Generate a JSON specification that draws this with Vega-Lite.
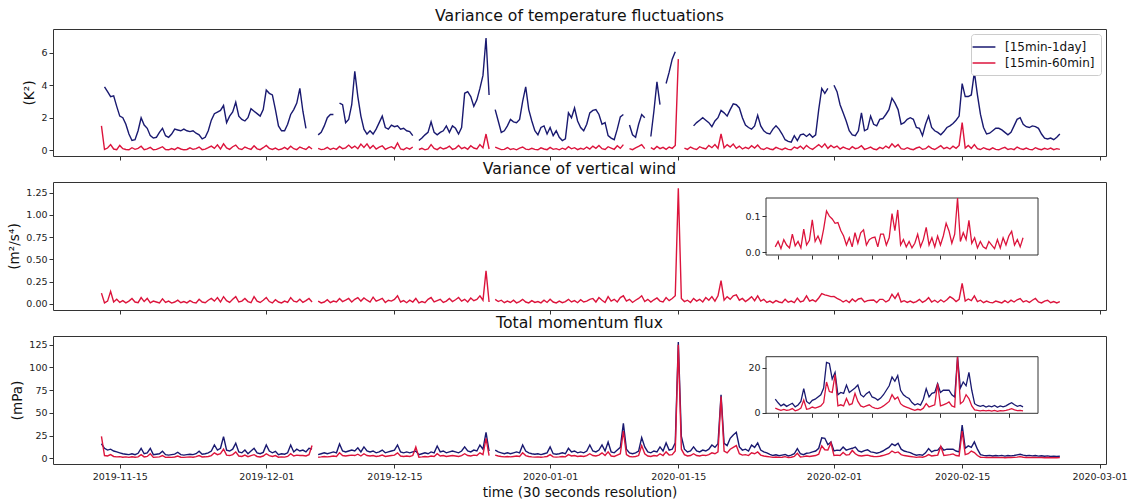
{
"$schema":"https://vega.github.io/schema/vega-lite/v6.json",
"background":"white",
"padding":{"left":7,"top":7,"right":5,"bottom":2},
"data":{"format":{"parse":{"t":"date:'%y%m%d%H'"}},"values":[
{"t":"19111300","a":null,"b":1.5,"w":0.12,"m":16,"n":24},
{"t":"19111308","a":3.9,"b":0.05,"w":0.01,"m":11,"n":3},
{"t":"19111316","a":3.6,"b":0.14,"w":0.03,"m":9,"n":2.5},
{"t":"19111400","a":3.3,"b":0.35,"w":0.14,"m":10,"n":4},
{"t":"19111408","a":3.35,"b":0.08,"w":0.02,"m":8,"n":2},
{"t":"19111416","a":2.7,"b":0.04,"w":0.05,"m":7,"n":1.5},
{"t":"19111500","a":2.1,"b":0.3,"w":0.015,"m":6,"n":1.8},
{"t":"19111508","a":2.0,"b":0.1,"w":0.035,"m":5,"n":1.2},
{"t":"19111516","a":1.6,"b":0.05,"w":0.01,"m":4.5,"n":1.5},
{"t":"19111600","a":1.0,"b":0.03,"w":0.03,"m":4,"n":1},
{"t":"19111608","a":0.6,"b":0.16,"w":0.06,"m":5,"n":1.6},
{"t":"19111616","a":0.65,"b":0.06,"w":0.02,"m":4,"n":1.2},
{"t":"19111700","a":1.2,"b":0.12,"w":0.012,"m":5.5,"n":1.5},
{"t":"19111708","a":2.0,"b":0.25,"w":0.07,"m":11,"n":4},
{"t":"19111716","a":1.55,"b":0.04,"w":0.025,"m":5,"n":1.5},
{"t":"19111800","a":1.35,"b":0.09,"w":0.06,"m":6,"n":2},
{"t":"19111808","a":0.9,"b":0.18,"w":0.01,"m":11,"n":5},
{"t":"19111816","a":0.75,"b":0.03,"w":0.03,"m":4,"n":1},
{"t":"19111900","a":0.8,"b":0.06,"w":0.02,"m":4.5,"n":1.3},
{"t":"19111908","a":1.1,"b":0.14,"w":0.01,"m":5,"n":1.5},
{"t":"19111916","a":1.35,"b":0.22,"w":0.055,"m":7.7,"n":3},
{"t":"19112000","a":0.9,"b":0.05,"w":0.015,"m":4,"n":1},
{"t":"19112008","a":0.8,"b":0.03,"w":0.03,"m":3.5,"n":1.2},
{"t":"19112016","a":1.0,"b":0.11,"w":0.008,"m":4,"n":1},
{"t":"19112100","a":1.3,"b":0.04,"w":0.02,"m":4.5,"n":1.4},
{"t":"19112108","a":1.25,"b":0.17,"w":0.04,"m":6.6,"n":2.5},
{"t":"19112116","a":1.2,"b":0.08,"w":0.012,"m":4,"n":1.2},
{"t":"19112200","a":1.3,"b":0.03,"w":0.025,"m":3.5,"n":1},
{"t":"19112208","a":1.2,"b":0.05,"w":0.01,"m":4,"n":1.3},
{"t":"19112216","a":1.15,"b":0.15,"w":0.035,"m":4.5,"n":1.5},
{"t":"19112300","a":1.2,"b":0.06,"w":0.015,"m":4,"n":1.2},
{"t":"19112308","a":1.05,"b":0.1,"w":0.01,"m":5,"n":1.8},
{"t":"19112316","a":0.95,"b":0.2,"w":0.05,"m":7.7,"n":3},
{"t":"19112400","a":0.7,"b":0.04,"w":0.02,"m":4.5,"n":1.4},
{"t":"19112408","a":0.8,"b":0.07,"w":0.012,"m":5,"n":1.6},
{"t":"19112416","a":1.2,"b":0.16,"w":0.04,"m":6,"n":2},
{"t":"19112500","a":1.85,"b":0.26,"w":0.06,"m":8,"n":3},
{"t":"19112508","a":2.25,"b":0.12,"w":0.03,"m":14.6,"n":6},
{"t":"19112516","a":2.35,"b":0.34,"w":0.07,"m":9,"n":4},
{"t":"19112600","a":2.45,"b":0.08,"w":0.02,"m":11,"n":5},
{"t":"19112608","a":2.75,"b":0.4,"w":0.08,"m":23.8,"n":10},
{"t":"19112616","a":1.7,"b":0.15,"w":0.035,"m":9,"n":3.5},
{"t":"19112700","a":2.1,"b":0.06,"w":0.015,"m":8,"n":3},
{"t":"19112708","a":2.35,"b":0.22,"w":0.05,"m":10,"n":4},
{"t":"19112716","a":2.95,"b":0.32,"w":0.08,"m":16.5,"n":7},
{"t":"19112800","a":2.1,"b":0.1,"w":0.02,"m":7,"n":2.5},
{"t":"19112808","a":1.9,"b":0.05,"w":0.03,"m":6,"n":2},
{"t":"19112816","a":1.8,"b":0.2,"w":0.06,"m":9,"n":3.5},
{"t":"19112900","a":2.0,"b":0.12,"w":0.025,"m":5,"n":1.8},
{"t":"19112908","a":2.55,"b":0.06,"w":0.012,"m":8,"n":3},
{"t":"19112916","a":2.4,"b":0.28,"w":0.08,"m":11,"n":4},
{"t":"19113000","a":2.25,"b":0.09,"w":0.03,"m":6,"n":2},
{"t":"19113008","a":2.1,"b":0.04,"w":0.015,"m":5,"n":1.5},
{"t":"19113016","a":2.5,"b":0.16,"w":0.04,"m":6.5,"n":2.5},
{"t":"19120100","a":3.7,"b":0.3,"w":0.07,"m":14.6,"n":5},
{"t":"19120108","a":3.5,"b":0.12,"w":0.025,"m":8,"n":3},
{"t":"19120116","a":3.4,"b":0.05,"w":0.01,"m":6,"n":2},
{"t":"19120200","a":2.5,"b":0.14,"w":0.045,"m":7.7,"n":3},
{"t":"19120208","a":1.5,"b":0.03,"w":0.02,"m":4,"n":1.2},
{"t":"19120216","a":1.2,"b":0.08,"w":0.01,"m":5,"n":1.5},
{"t":"19120300","a":1.2,"b":0.18,"w":0.03,"m":4.5,"n":1.3},
{"t":"19120308","a":1.6,"b":0.06,"w":0.015,"m":6,"n":2},
{"t":"19120316","a":2.2,"b":0.25,"w":0.07,"m":14.6,"n":5},
{"t":"19120400","a":2.5,"b":0.1,"w":0.03,"m":7,"n":2.5},
{"t":"19120408","a":2.9,"b":0.04,"w":0.02,"m":10,"n":3.5},
{"t":"19120416","a":3.8,"b":0.2,"w":0.05,"m":8,"n":3},
{"t":"19120500","a":2.4,"b":0.12,"w":0.015,"m":9,"n":3},
{"t":"19120508","a":1.35,"b":0.05,"w":0.035,"m":7,"n":2.5},
{"t":"19120516","a":null,"b":0.22,"w":0.06,"m":11,"n":4},
{"t":"19120600","a":null,"b":0.08,"w":0.02,"m":10,"n":14},
{"t":"19120608","a":null,"b":null,"w":null,"m":null,"n":null},
{"t":"19120616","a":0.95,"b":0.12,"w":0.03,"m":4,"n":1.2},
{"t":"19120700","a":1.1,"b":0.04,"w":0.01,"m":5,"n":1.5},
{"t":"19120708","a":1.5,"b":0.07,"w":0.02,"m":6,"n":2},
{"t":"19120716","a":2.0,"b":0.18,"w":0.045,"m":5,"n":1.6},
{"t":"19120800","a":2.2,"b":0.05,"w":0.012,"m":6,"n":2},
{"t":"19120808","a":2.2,"b":0.13,"w":0.03,"m":7,"n":2.5},
{"t":"19120816","a":null,"b":0.06,"w":0.02,"m":6,"n":2},
{"t":"19120900","a":2.9,"b":0.24,"w":0.06,"m":15.7,"n":6},
{"t":"19120908","a":2.8,"b":0.1,"w":0.025,"m":8,"n":3},
{"t":"19120916","a":1.7,"b":0.15,"w":0.04,"m":7,"n":2.5},
{"t":"19121000","a":1.9,"b":0.32,"w":0.06,"m":8,"n":3},
{"t":"19121008","a":2.8,"b":0.14,"w":0.02,"m":9,"n":3.5},
{"t":"19121016","a":4.85,"b":0.26,"w":0.05,"m":8,"n":3},
{"t":"19121100","a":3.3,"b":0.1,"w":0.07,"m":11.5,"n":4.5},
{"t":"19121108","a":2.1,"b":0.38,"w":0.03,"m":7,"n":2.5},
{"t":"19121116","a":1.3,"b":0.18,"w":0.065,"m":12.5,"n":5},
{"t":"19121200","a":1.0,"b":0.4,"w":0.04,"m":8,"n":3},
{"t":"19121208","a":1.2,"b":0.12,"w":0.02,"m":7,"n":2.5},
{"t":"19121216","a":1.0,"b":0.3,"w":0.075,"m":8,"n":3},
{"t":"19121300","a":1.3,"b":0.08,"w":0.03,"m":6,"n":2},
{"t":"19121308","a":1.7,"b":0.2,"w":0.045,"m":7,"n":2.5},
{"t":"19121316","a":2.1,"b":0.28,"w":0.06,"m":9,"n":3.5},
{"t":"19121400","a":1.4,"b":0.06,"w":0.015,"m":6,"n":2},
{"t":"19121408","a":1.3,"b":0.15,"w":0.04,"m":7,"n":2.5},
{"t":"19121416","a":1.55,"b":0.22,"w":0.03,"m":8,"n":3},
{"t":"19121500","a":1.45,"b":0.1,"w":0.05,"m":9,"n":3.5},
{"t":"19121508","a":1.5,"b":0.45,"w":0.09,"m":14.6,"n":6},
{"t":"19121516","a":1.3,"b":0.08,"w":0.02,"m":7,"n":2.5},
{"t":"19121600","a":1.35,"b":0.04,"w":0.035,"m":6,"n":2},
{"t":"19121608","a":1.2,"b":0.16,"w":0.012,"m":7,"n":2.5},
{"t":"19121616","a":1.15,"b":0.07,"w":0.04,"m":6,"n":2},
{"t":"19121700","a":0.9,"b":0.2,"w":0.02,"m":7,"n":3},
{"t":"19121708","a":null,"b":null,"w":0.06,"m":8,"n":12.5},
{"t":"19121716","a":0.6,"b":0.05,"w":0.01,"m":4,"n":1.2},
{"t":"19121800","a":0.75,"b":0.12,"w":0.025,"m":5,"n":1.5},
{"t":"19121808","a":0.95,"b":0.03,"w":0.012,"m":6,"n":2},
{"t":"19121816","a":1.1,"b":0.09,"w":0.05,"m":5,"n":1.6},
{"t":"19121900","a":1.75,"b":0.35,"w":0.07,"m":7,"n":2.5},
{"t":"19121908","a":1.1,"b":0.12,"w":0.02,"m":6,"n":2},
{"t":"19121916","a":0.95,"b":0.04,"w":0.035,"m":13.5,"n":5},
{"t":"19122000","a":1.1,"b":0.18,"w":0.05,"m":7,"n":2.5},
{"t":"19122008","a":1.2,"b":0.08,"w":0.015,"m":8,"n":3},
{"t":"19122016","a":1.5,"b":0.14,"w":0.03,"m":6,"n":2},
{"t":"19122100","a":1.1,"b":0.26,"w":0.06,"m":7,"n":2.5},
{"t":"19122108","a":1.5,"b":0.06,"w":0.025,"m":8,"n":3},
{"t":"19122116","a":1.35,"b":0.12,"w":0.045,"m":7,"n":2.5},
{"t":"19122200","a":1.0,"b":0.3,"w":0.07,"m":6,"n":2},
{"t":"19122208","a":1.4,"b":0.1,"w":0.03,"m":8,"n":3},
{"t":"19122216","a":3.5,"b":0.18,"w":0.05,"m":12.5,"n":5},
{"t":"19122300","a":3.6,"b":0.06,"w":0.02,"m":8,"n":3},
{"t":"19122308","a":3.3,"b":0.28,"w":0.065,"m":7,"n":2.5},
{"t":"19122316","a":2.7,"b":0.14,"w":0.035,"m":9,"n":3.5},
{"t":"19122400","a":3.1,"b":0.09,"w":0.05,"m":8,"n":3},
{"t":"19122408","a":3.8,"b":0.35,"w":0.09,"m":14.6,"n":6},
{"t":"19122416","a":4.6,"b":0.15,"w":0.04,"m":10,"n":4},
{"t":"19122500","a":6.9,"b":1.0,"w":0.37,"m":28.6,"n":22},
{"t":"19122508","a":3.4,"b":0.08,"w":0.02,"m":8,"n":3},
{"t":"19122516","a":null,"b":null,"w":null,"m":null,"n":null},
{"t":"19122600","a":2.5,"b":0.2,"w":0.05,"m":9,"n":3.5},
{"t":"19122608","a":1.8,"b":0.12,"w":0.025,"m":7,"n":2.5},
{"t":"19122616","a":1.1,"b":0.04,"w":0.04,"m":6,"n":2},
{"t":"19122700","a":1.2,"b":0.06,"w":0.012,"m":5,"n":1.6},
{"t":"19122708","a":1.5,"b":0.17,"w":0.03,"m":6,"n":2},
{"t":"19122716","a":1.9,"b":0.05,"w":0.015,"m":5,"n":1.5},
{"t":"19122800","a":1.75,"b":0.1,"w":0.04,"m":6,"n":2},
{"t":"19122808","a":1.7,"b":0.03,"w":0.01,"m":7,"n":2.5},
{"t":"19122816","a":1.9,"b":0.14,"w":0.025,"m":6,"n":2},
{"t":"19122900","a":3.0,"b":0.2,"w":0.05,"m":14.6,"n":6},
{"t":"19122908","a":3.9,"b":0.07,"w":0.02,"m":8,"n":3},
{"t":"19122916","a":2.5,"b":0.04,"w":0.01,"m":6,"n":2},
{"t":"19123000","a":1.8,"b":0.12,"w":0.035,"m":5,"n":1.6},
{"t":"19123008","a":1.2,"b":0.06,"w":0.015,"m":4.5,"n":1.3},
{"t":"19123016","a":0.95,"b":0.03,"w":0.025,"m":5,"n":1.5},
{"t":"19123100","a":1.4,"b":0.15,"w":0.01,"m":4,"n":1.2},
{"t":"19123108","a":1.5,"b":0.08,"w":0.04,"m":5,"n":1.5},
{"t":"19123116","a":1.0,"b":0.04,"w":0.015,"m":6,"n":2},
{"t":"20010100","a":1.4,"b":0.18,"w":0.05,"m":12.5,"n":4},
{"t":"20010108","a":0.9,"b":0.06,"w":0.02,"m":5,"n":1.5},
{"t":"20010116","a":1.2,"b":0.1,"w":0.01,"m":4.5,"n":1.3},
{"t":"20010200","a":0.8,"b":0.03,"w":0.03,"m":5,"n":1.5},
{"t":"20010208","a":0.6,"b":0.13,"w":0.012,"m":6,"n":2},
{"t":"20010216","a":0.7,"b":0.05,"w":0.025,"m":5,"n":1.6},
{"t":"20010300","a":2.3,"b":0.22,"w":0.05,"m":11,"n":4},
{"t":"20010308","a":2.0,"b":0.09,"w":0.02,"m":7,"n":2.5},
{"t":"20010316","a":2.6,"b":0.16,"w":0.035,"m":8,"n":3},
{"t":"20010400","a":1.8,"b":0.04,"w":0.012,"m":6,"n":2},
{"t":"20010408","a":1.4,"b":0.12,"w":0.045,"m":7,"n":2.5},
{"t":"20010416","a":1.2,"b":0.06,"w":0.02,"m":6,"n":2},
{"t":"20010500","a":1.6,"b":0.2,"w":0.03,"m":8,"n":3},
{"t":"20010508","a":2.3,"b":0.08,"w":0.05,"m":14.6,"n":5},
{"t":"20010516","a":2.45,"b":0.26,"w":0.06,"m":8,"n":3},
{"t":"20010600","a":2.5,"b":0.12,"w":0.02,"m":7,"n":2.5},
{"t":"20010608","a":2.2,"b":0.3,"w":0.07,"m":9,"n":3.5},
{"t":"20010616","a":1.6,"b":0.1,"w":0.04,"m":14.6,"n":6},
{"t":"20010700","a":1.7,"b":0.05,"w":0.015,"m":8,"n":3},
{"t":"20010708","a":0.9,"b":0.22,"w":0.08,"m":18,"n":7},
{"t":"20010716","a":0.75,"b":0.14,"w":0.03,"m":7,"n":2.5},
{"t":"20010800","a":0.65,"b":0.06,"w":0.05,"m":6,"n":2},
{"t":"20010808","a":1.3,"b":0.28,"w":0.02,"m":9,"n":3.5},
{"t":"20010816","a":2.05,"b":0.12,"w":0.07,"m":12,"n":5},
{"t":"20010900","a":2.2,"b":0.35,"w":0.09,"m":38.5,"n":30},
{"t":"20010908","a":null,"b":null,"w":0.03,"m":10,"n":4},
{"t":"20010916","a":1.55,"b":0.1,"w":0.05,"m":6,"n":2},
{"t":"20011000","a":0.95,"b":0.04,"w":0.015,"m":5,"n":1.6},
{"t":"20011008","a":0.8,"b":0.15,"w":0.04,"m":6,"n":2},
{"t":"20011016","a":1.6,"b":0.24,"w":0.06,"m":8,"n":3},
{"t":"20011100","a":2.2,"b":0.35,"w":0.09,"m":22.7,"n":14},
{"t":"20011108","a":2.0,"b":0.1,"w":0.025,"m":12.5,"n":5},
{"t":"20011116","a":null,"b":null,"w":0.05,"m":7,"n":2.5},
{"t":"20011200","a":0.85,"b":0.16,"w":0.02,"m":6,"n":2},
{"t":"20011208","a":2.4,"b":0.06,"w":0.045,"m":8,"n":3},
{"t":"20011216","a":4.2,"b":0.24,"w":0.065,"m":7,"n":2.5},
{"t":"20011300","a":2.8,"b":0.1,"w":0.03,"m":12.5,"n":5},
{"t":"20011308","a":null,"b":0.18,"w":0.02,"m":8,"n":3},
{"t":"20011316","a":4.1,"b":0.06,"w":0.07,"m":16.9,"n":7},
{"t":"20011400","a":4.8,"b":0.2,"w":0.035,"m":9,"n":3.5},
{"t":"20011408","a":5.6,"b":0.12,"w":0.06,"m":10,"n":4},
{"t":"20011416","a":6.05,"b":0.3,"w":0.09,"m":16.9,"n":8},
{"t":"20011500","a":null,"b":5.6,"w":1.3,"m":128,"n":125},
{"t":"20011508","a":null,"b":null,"w":0.06,"m":24,"n":10},
{"t":"20011516","a":null,"b":0.14,"w":0.025,"m":10,"n":4},
{"t":"20011600","a":null,"b":0.06,"w":0.04,"m":7,"n":2.5},
{"t":"20011608","a":null,"b":0.2,"w":0.015,"m":8,"n":3},
{"t":"20011616","a":1.5,"b":0.1,"w":0.06,"m":12.5,"n":5},
{"t":"20011700","a":1.7,"b":0.05,"w":0.03,"m":8,"n":3},
{"t":"20011708","a":1.85,"b":0.22,"w":0.05,"m":7,"n":2.5},
{"t":"20011716","a":2.0,"b":0.14,"w":0.02,"m":9,"n":3.5},
{"t":"20011800","a":1.85,"b":0.08,"w":0.07,"m":8,"n":3},
{"t":"20011808","a":1.7,"b":0.3,"w":0.04,"m":10,"n":4},
{"t":"20011816","a":1.45,"b":0.16,"w":0.08,"m":14.6,"n":6},
{"t":"20011900","a":1.8,"b":0.35,"w":0.03,"m":12,"n":5},
{"t":"20011908","a":2.0,"b":0.12,"w":0.09,"m":16,"n":7},
{"t":"20011916","a":2.45,"b":1.0,"w":0.26,"m":70,"n":68},
{"t":"20012000","a":2.3,"b":0.15,"w":0.04,"m":16.5,"n":8},
{"t":"20012008","a":2.1,"b":0.35,"w":0.08,"m":14,"n":6},
{"t":"20012016","a":2.5,"b":0.2,"w":0.05,"m":22,"n":10},
{"t":"20012100","a":2.85,"b":0.38,"w":0.09,"m":25.7,"n":12},
{"t":"20012108","a":2.8,"b":0.12,"w":0.1,"m":28.6,"n":14},
{"t":"20012116","a":2.6,"b":0.26,"w":0.04,"m":12.5,"n":5},
{"t":"20012200","a":2.0,"b":0.08,"w":0.06,"m":9,"n":3.5},
{"t":"20012208","a":1.55,"b":0.18,"w":0.025,"m":10,"n":4},
{"t":"20012216","a":1.4,"b":0.1,"w":0.05,"m":8,"n":3},
{"t":"20012300","a":1.3,"b":0.28,"w":0.08,"m":14.6,"n":6},
{"t":"20012308","a":1.5,"b":0.14,"w":0.035,"m":12,"n":5},
{"t":"20012316","a":2.15,"b":0.32,"w":0.09,"m":16.9,"n":7},
{"t":"20012400","a":1.5,"b":0.1,"w":0.03,"m":9,"n":3.5},
{"t":"20012408","a":1.2,"b":0.05,"w":0.05,"m":7,"n":2.5},
{"t":"20012416","a":1.05,"b":0.16,"w":0.015,"m":6,"n":2},
{"t":"20012500","a":1.0,"b":0.08,"w":0.03,"m":4.4,"n":1.5},
{"t":"20012508","a":1.3,"b":0.04,"w":0.01,"m":3,"n":1},
{"t":"20012516","a":1.5,"b":0.18,"w":0.035,"m":3.8,"n":1.4},
{"t":"20012600","a":1.3,"b":0.1,"w":0.02,"m":2.8,"n":1},
{"t":"20012608","a":1.0,"b":0.04,"w":0.012,"m":3.5,"n":1.2},
{"t":"20012616","a":0.65,"b":0.14,"w":0.05,"m":4.2,"n":1.8},
{"t":"20012700","a":0.55,"b":0.06,"w":0.018,"m":2.6,"n":0.8},
{"t":"20012708","a":0.5,"b":0.03,"w":0.03,"m":3.4,"n":1.2},
{"t":"20012716","a":0.9,"b":0.2,"w":0.012,"m":5,"n":2},
{"t":"20012800","a":0.6,"b":0.12,"w":0.064,"m":10.7,"n":5.6},
{"t":"20012808","a":0.95,"b":0.26,"w":0.02,"m":5,"n":1.5},
{"t":"20012816","a":1.0,"b":0.08,"w":0.033,"m":4,"n":1.8},
{"t":"20012900","a":0.85,"b":0.3,"w":0.09,"m":5.5,"n":2.5},
{"t":"20012908","a":1.0,"b":0.14,"w":0.03,"m":6,"n":2},
{"t":"20012916","a":0.8,"b":0.06,"w":0.045,"m":7,"n":2.5},
{"t":"20013000","a":0.95,"b":0.2,"w":0.025,"m":8,"n":3},
{"t":"20013008","a":2.5,"b":0.35,"w":0.065,"m":11,"n":4.5},
{"t":"20013016","a":3.8,"b":0.18,"w":0.114,"m":22.5,"n":13.7},
{"t":"20013100","a":3.5,"b":0.4,"w":0.1,"m":22,"n":9.4},
{"t":"20013108","a":3.8,"b":0.12,"w":0.092,"m":15,"n":9},
{"t":"20013116","a":null,"b":0.3,"w":0.08,"m":18,"n":17},
{"t":"20020100","a":4.0,"b":0.16,"w":0.082,"m":8,"n":3},
{"t":"20020108","a":3.6,"b":0.26,"w":0.06,"m":9,"n":3.5},
{"t":"20020116","a":2.8,"b":0.08,"w":0.045,"m":8.6,"n":3},
{"t":"20020200","a":2.3,"b":0.2,"w":0.02,"m":12.3,"n":6.3},
{"t":"20020208","a":1.8,"b":0.12,"w":0.04,"m":9,"n":3.5},
{"t":"20020216","a":1.2,"b":0.05,"w":0.015,"m":10,"n":4},
{"t":"20020300","a":0.95,"b":0.22,"w":0.054,"m":11,"n":8.6},
{"t":"20020308","a":0.9,"b":0.1,"w":0.025,"m":12.3,"n":5},
{"t":"20020316","a":1.2,"b":0.15,"w":0.054,"m":8,"n":3},
{"t":"20020400","a":2.3,"b":0.28,"w":0.062,"m":7,"n":2.5},
{"t":"20020408","a":1.2,"b":0.06,"w":0.02,"m":8.5,"n":3},
{"t":"20020416","a":1.3,"b":0.12,"w":0.035,"m":9.4,"n":3.5},
{"t":"20020500","a":2.1,"b":0.2,"w":0.04,"m":7,"n":2.5},
{"t":"20020508","a":1.6,"b":0.08,"w":0.042,"m":6.5,"n":2},
{"t":"20020516","a":1.5,"b":0.04,"w":0.015,"m":5.6,"n":1.8},
{"t":"20020600","a":1.9,"b":0.18,"w":0.05,"m":6.5,"n":2.2},
{"t":"20020608","a":1.95,"b":0.1,"w":0.05,"m":8,"n":3},
{"t":"20020616","a":2.2,"b":0.26,"w":0.02,"m":10,"n":4},
{"t":"20020700","a":2.5,"b":0.14,"w":0.04,"m":12,"n":5},
{"t":"20020708","a":3.2,"b":0.4,"w":0.107,"m":15.9,"n":8},
{"t":"20020716","a":2.9,"b":0.2,"w":0.06,"m":14,"n":6},
{"t":"20020800","a":2.5,"b":0.35,"w":0.117,"m":16.6,"n":7},
{"t":"20020808","a":1.6,"b":0.1,"w":0.02,"m":10,"n":4},
{"t":"20020816","a":1.7,"b":0.06,"w":0.035,"m":8,"n":3},
{"t":"20020900","a":1.9,"b":0.16,"w":0.015,"m":7,"n":2.5},
{"t":"20020908","a":2.0,"b":0.08,"w":0.03,"m":6.3,"n":2},
{"t":"20020916","a":1.9,"b":0.04,"w":0.012,"m":4.5,"n":1.5},
{"t":"20021000","a":1.4,"b":0.14,"w":0.025,"m":3.4,"n":1},
{"t":"20021008","a":1.35,"b":0.2,"w":0.05,"m":4,"n":1.5},
{"t":"20021016","a":0.9,"b":0.06,"w":0.015,"m":3.4,"n":1.2},
{"t":"20021100","a":1.6,"b":0.1,"w":0.035,"m":6,"n":2},
{"t":"20021108","a":2.1,"b":0.25,"w":0.069,"m":10.7,"n":4},
{"t":"20021116","a":1.4,"b":0.12,"w":0.02,"m":7,"n":2.5},
{"t":"20021200","a":1.2,"b":0.05,"w":0.04,"m":8.6,"n":3},
{"t":"20021208","a":1.1,"b":0.16,"w":0.015,"m":9,"n":3.5},
{"t":"20021216","a":0.95,"b":0.28,"w":0.045,"m":13,"n":13},
{"t":"20021300","a":1.15,"b":0.1,"w":0.02,"m":9,"n":3},
{"t":"20021308","a":1.4,"b":0.18,"w":0.045,"m":10,"n":3.5},
{"t":"20021316","a":1.5,"b":0.08,"w":0.08,"m":10,"n":4},
{"t":"20021400","a":1.65,"b":0.25,"w":0.059,"m":10,"n":4.8},
{"t":"20021408","a":1.85,"b":0.12,"w":0.025,"m":8,"n":3},
{"t":"20021416","a":2.1,"b":0.3,"w":0.05,"m":7,"n":2.5},
{"t":"20021500","a":4.1,"b":1.7,"w":0.23,"m":36.6,"n":30},
{"t":"20021508","a":3.3,"b":0.14,"w":0.03,"m":11,"n":4},
{"t":"20021516","a":3.3,"b":0.3,"w":0.054,"m":13.7,"n":5},
{"t":"20021600","a":3.4,"b":0.12,"w":0.035,"m":12,"n":8},
{"t":"20021608","a":4.8,"b":0.35,"w":0.088,"m":18,"n":6.3},
{"t":"20021616","a":3.4,"b":0.1,"w":0.025,"m":10,"n":3},
{"t":"20021700","a":2.2,"b":0.05,"w":0.04,"m":4,"n":1.2},
{"t":"20021708","a":1.4,"b":0.16,"w":0.012,"m":3.2,"n":1},
{"t":"20021716","a":1.0,"b":0.08,"w":0.03,"m":2.8,"n":0.8},
{"t":"20021800","a":1.05,"b":0.04,"w":0.015,"m":3.2,"n":1},
{"t":"20021808","a":1.2,"b":0.15,"w":0.01,"m":2.5,"n":0.8},
{"t":"20021816","a":1.35,"b":0.06,"w":0.03,"m":3,"n":1},
{"t":"20021900","a":1.35,"b":0.03,"w":0.02,"m":2.6,"n":0.7},
{"t":"20021908","a":1.25,"b":0.12,"w":0.01,"m":3.2,"n":1},
{"t":"20021916","a":1.1,"b":0.18,"w":0.035,"m":2.4,"n":0.6},
{"t":"20022000","a":0.95,"b":0.05,"w":0.012,"m":3,"n":0.9},
{"t":"20022008","a":1.1,"b":0.1,"w":0.04,"m":2.6,"n":0.8},
{"t":"20022016","a":1.5,"b":0.04,"w":0.02,"m":3,"n":1},
{"t":"20022100","a":1.9,"b":0.2,"w":0.045,"m":3.8,"n":1.3},
{"t":"20022108","a":2.0,"b":0.1,"w":0.058,"m":4.4,"n":1.8},
{"t":"20022116","a":1.6,"b":0.05,"w":0.02,"m":3.5,"n":1.2},
{"t":"20022200","a":1.45,"b":0.14,"w":0.035,"m":2.8,"n":0.9},
{"t":"20022208","a":1.4,"b":0.06,"w":0.015,"m":3.2,"n":1},
{"t":"20022216","a":1.5,"b":0.03,"w":0.04,"m":2.6,"n":0.8},
{"t":"20022300","a":1.45,"b":0.16,"w":0.06,"m":3,"n":0.9},
{"t":"20022308","a":1.35,"b":0.08,"w":0.02,"m":2.4,"n":0.7},
{"t":"20022316","a":1.0,"b":0.04,"w":0.01,"m":2.8,"n":0.8},
{"t":"20022400","a":0.75,"b":0.12,"w":0.03,"m":2.2,"n":0.6},
{"t":"20022408","a":0.7,"b":0.06,"w":0.04,"m":2.6,"n":0.8},
{"t":"20022416","a":0.75,"b":0.14,"w":0.012,"m":2,"n":0.6},
{"t":"20022500","a":0.65,"b":0.04,"w":0.025,"m":2.4,"n":0.7},
{"t":"20022508","a":0.8,"b":0.1,"w":0.01,"m":2,"n":0.6},
{"t":"20022516","a":1.0,"b":0.06,"w":0.025,"m":2.2,"n":0.7}
]},
"config":{
"font":"DejaVu Sans",
"view":{"stroke":"#333333","strokeWidth":1},
"axis":{"grid":false,"domain":false,"ticks":true,"tickColor":"#333333","tickSize":4,"tickWidth":1,"labelFontSize":9.5,"labelColor":"#222222","labelPadding":2,"titleFontSize":13.6,"titleFontWeight":"normal","titleColor":"#111111","titlePadding":4},
"title":{"fontSize":15.7,"fontWeight":"normal","color":"#111111","offset":4,"anchor":"middle"},
"legend":{"orient":"top-right","offset":5,"title":null,"strokeColor":"#cccccc","fillColor":"white","padding":6,"cornerRadius":3,"labelFontSize":12,"labelColor":"#111111","symbolType":"M-1.9,0H1.9","symbolSize":144,"symbolStrokeWidth":1.5,"labelOffset":14,"rowPadding":3}
},
"spacing":26,
"bounds":"flush",
"resolve":{"scale":{"color":"independent"},"legend":{"color":"independent"}},
"vconcat":[
{
"title":"Variance of temperature fluctuations",
"width":1053,"height":127,
"encoding":{"x":{"field":"t","type":"temporal","scale":{"domain":[{"year":2019,"month":11,"date":7,"hours":17},{"year":2020,"month":3,"date":1,"hours":17}]},"axis":{"values":[{"year":2019,"month":11,"date":15},{"year":2019,"month":12,"date":1},{"year":2019,"month":12,"date":15},{"year":2020,"month":1,"date":1},{"year":2020,"month":1,"date":15},{"year":2020,"month":2,"date":1},{"year":2020,"month":2,"date":15},{"year":2020,"month":3,"date":1}],"labels":false,"title":null}}},
"layer":[
{"mark":{"type":"line","strokeWidth":1.4},"encoding":{"y":{"field":"a","type":"quantitative","scale":{"domain":[-0.35,7.45],"nice":false,"zero":false},"axis":{"values":[0,2,4,6],"title":"(K²)"}},"color":{"datum":"[15min-1day]","type":"nominal","scale":{"domain":["[15min-1day]","[15min-60min]"],"range":["#191970","#dc143c"]}}}},
{"mark":{"type":"line","strokeWidth":1.4},"encoding":{"y":{"field":"b","type":"quantitative","scale":{"domain":[-0.35,7.45],"nice":false,"zero":false},"axis":{"values":[0,2,4,6],"title":"(K²)"}},"color":{"datum":"[15min-60min]","type":"nominal"}}}
]
},
{
"title":"Variance of vertical wind",
"width":1053,"height":128,
"resolve":{"scale":{"x":"independent","y":"independent"}},
"layer":[
{"mark":{"type":"line","color":"#dc143c","strokeWidth":1.4},"encoding":{
"x":{"field":"t","type":"temporal","scale":{"domain":[{"year":2019,"month":11,"date":7,"hours":17},{"year":2020,"month":3,"date":1,"hours":17}]},"axis":{"values":[{"year":2019,"month":11,"date":15},{"year":2019,"month":12,"date":1},{"year":2019,"month":12,"date":15},{"year":2020,"month":1,"date":1},{"year":2020,"month":1,"date":15},{"year":2020,"month":2,"date":1},{"year":2020,"month":2,"date":15},{"year":2020,"month":3,"date":1}],"labels":false,"title":null}},
"y":{"field":"w","type":"quantitative","scale":{"domain":[-0.07,1.37],"nice":false,"zero":false},"axis":{"values":[0,0.25,0.5,0.75,1,1.25],"format":".2f","title":"(m²/s⁴)"}}}},
{"layer":[
{"data":{"values":[{"k":1}]},"mark":{"type":"rect","filled":false,"stroke":"#333333","strokeWidth":1},"encoding":{
"x":{"datum":{"year":2020,"month":1,"date":23,"hours":14},"type":"temporal"},
"x2":{"datum":{"year":2020,"month":2,"date":24,"hours":10}},
"y":{"datum":0.15,"type":"quantitative"},
"y2":{"datum":-0.0075}}},
{"transform":[{"filter":{"field":"t","range":[{"year":2020,"month":1,"date":24,"hours":16},{"year":2020,"month":2,"date":22,"hours":16}]}}],
"mark":{"type":"line","color":"#dc143c","strokeWidth":1.3},"encoding":{
"x":{"field":"t","type":"temporal","scale":{"domain":[{"year":2020,"month":1,"date":23,"hours":14},{"year":2020,"month":2,"date":24,"hours":10}],"range":[713,985]},"axis":{"orient":"bottom","offset":-55,"values":[{"year":2020,"month":1,"date":25},{"year":2020,"month":1,"date":29},{"year":2020,"month":2,"date":1},{"year":2020,"month":2,"date":5},{"year":2020,"month":2,"date":9},{"year":2020,"month":2,"date":13},{"year":2020,"month":2,"date":17},{"year":2020,"month":2,"date":21}],"labels":false,"title":null}},
"y":{"field":"w","type":"quantitative","scale":{"domain":[-0.0075,0.15],"range":[73,16],"clamp":true,"nice":false,"zero":false},"axis":{"orient":"left","offset":-713,"values":[0,0.1],"format":".1f","title":null}}}}
]}
]
},
{
"title":"Total momentum flux",
"width":1053,"height":128,
"resolve":{"scale":{"x":"independent","y":"independent"}},
"layer":[
{"encoding":{"x":{"field":"t","type":"temporal","scale":{"domain":[{"year":2019,"month":11,"date":7,"hours":17},{"year":2020,"month":3,"date":1,"hours":17}]},"axis":{"values":[{"year":2019,"month":11,"date":15},{"year":2019,"month":12,"date":1},{"year":2019,"month":12,"date":15},{"year":2020,"month":1,"date":1},{"year":2020,"month":1,"date":15},{"year":2020,"month":2,"date":1},{"year":2020,"month":2,"date":15},{"year":2020,"month":3,"date":1}],"format":"%Y-%m-%d","labelPadding":3,"title":"time (30 seconds resolution)","titlePadding":5}}},
"layer":[
{"mark":{"type":"line","color":"#191970","strokeWidth":1.4},"encoding":{"y":{"field":"m","type":"quantitative","scale":{"domain":[-6.3,134.6],"nice":false,"zero":false},"axis":{"values":[0,25,50,75,100,125],"title":"(mPa)"}}}},
{"mark":{"type":"line","color":"#dc143c","strokeWidth":1.4},"encoding":{"y":{"field":"n","type":"quantitative","scale":{"domain":[-6.3,134.6],"nice":false,"zero":false},"axis":{"values":[0,25,50,75,100,125],"title":"(mPa)"}}}}
]},
{"layer":[
{"data":{"values":[{"k":1}]},"mark":{"type":"rect","filled":false,"stroke":"#333333","strokeWidth":1},"encoding":{
"x":{"datum":{"year":2020,"month":1,"date":23,"hours":14},"type":"temporal"},
"x2":{"datum":{"year":2020,"month":2,"date":24,"hours":10}},
"y":{"datum":25,"type":"quantitative"},
"y2":{"datum":-0.3}}},
{"transform":[{"filter":{"field":"t","range":[{"year":2020,"month":1,"date":24,"hours":16},{"year":2020,"month":2,"date":22,"hours":16}]}}],
"encoding":{
"x":{"field":"t","type":"temporal","scale":{"domain":[{"year":2020,"month":1,"date":23,"hours":14},{"year":2020,"month":2,"date":24,"hours":10}],"range":[713,985]},"axis":{"orient":"bottom","offset":-50.7,"values":[{"year":2020,"month":1,"date":25},{"year":2020,"month":1,"date":29},{"year":2020,"month":2,"date":1},{"year":2020,"month":2,"date":5},{"year":2020,"month":2,"date":9},{"year":2020,"month":2,"date":13},{"year":2020,"month":2,"date":17},{"year":2020,"month":2,"date":21}],"labels":false,"title":null}}},
"layer":[
{"mark":{"type":"line","color":"#191970","strokeWidth":1.3},"encoding":{"y":{"field":"m","type":"quantitative","scale":{"domain":[-0.3,25],"range":[77.3,20.7],"clamp":true,"nice":false,"zero":false},"axis":{"orient":"left","offset":-713,"values":[0,20],"title":null}}}},
{"mark":{"type":"line","color":"#dc143c","strokeWidth":1.3},"encoding":{"y":{"field":"n","type":"quantitative","scale":{"domain":[-0.3,25],"range":[77.3,20.7],"clamp":true,"nice":false,"zero":false},"axis":{"orient":"left","offset":-713,"values":[0,20],"title":null}}}}
]}
]}
]
}
]
}
